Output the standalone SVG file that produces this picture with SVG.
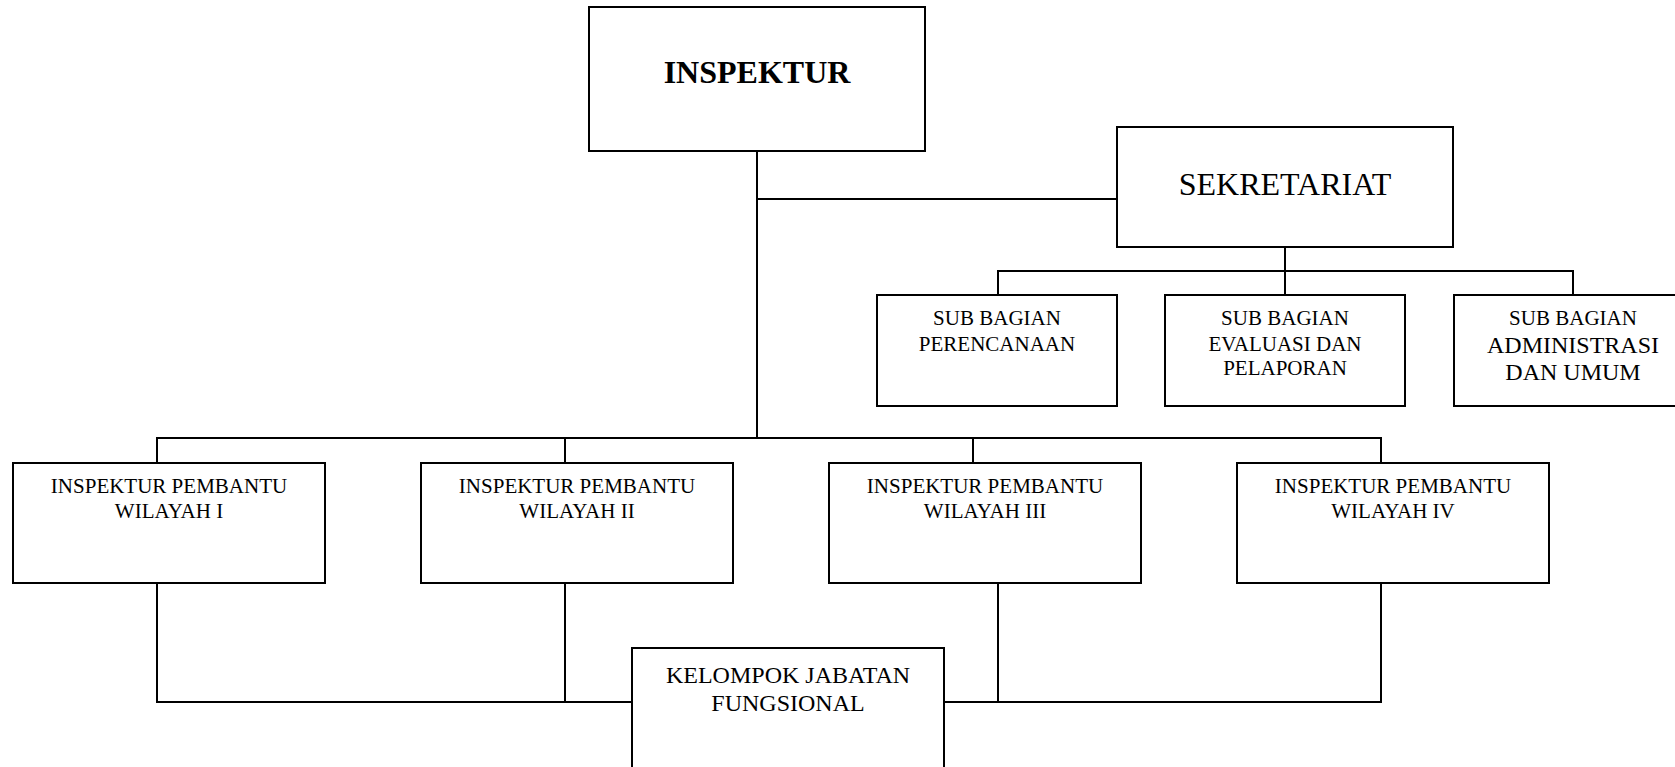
<svg xmlns="http://www.w3.org/2000/svg" width="1675" height="767" viewBox="0 0 1675 767">
<style>
.box{fill:#fff;stroke:#000;stroke-width:2}
.ln{fill:none;stroke:#000;stroke-width:2}
text{font-family:"Liberation Serif","Times New Roman",serif;fill:#000;text-anchor:middle}
.t21{font-size:21px}
.t24{font-size:24px}
</style>
<rect width="1675" height="767" fill="#fff"/>
<g id="connectors">
<polyline class="ln" points="757,151 757,438"/>
<polyline class="ln" points="757,199 1117,199"/>
<polyline class="ln" points="1285,247 1285,295"/>
<polyline class="ln" points="998,295 998,271 1573,271 1573,295"/>
<polyline class="ln" points="157,463 157,438 1381,438 1381,463"/>
<polyline class="ln" points="565,438 565,463"/>
<polyline class="ln" points="973,438 973,463"/>
<polyline class="ln" points="157,583 157,702 632,702"/>
<polyline class="ln" points="565,583 565,702"/>
<polyline class="ln" points="998,583 998,702"/>
<polyline class="ln" points="944,702 1381,702 1381,583"/>
</g>
<g id="inspektur">
<rect class="box" x="589" y="7" width="336" height="144"/>
<text x="757" y="83" font-size="32" font-weight="bold">INSPEKTUR</text>
</g>
<g id="sekretariat">
<rect class="box" x="1117" y="127" width="336" height="120"/>
<text x="1285" y="195" font-size="32">SEKRETARIAT</text>
</g>
<g id="sub-perencanaan">
<rect class="box" x="877" y="295" width="240" height="111"/>
<text class="t21" x="997" y="325">SUB BAGIAN</text>
<text class="t21" x="997" y="351">PERENCANAAN</text>
</g>
<g id="sub-evaluasi">
<rect class="box" x="1165" y="295" width="240" height="111"/>
<text class="t21" x="1285" y="325">SUB BAGIAN</text>
<text class="t21" x="1285" y="351">EVALUASI DAN</text>
<text class="t21" x="1285" y="375">PELAPORAN</text>
</g>
<g id="sub-administrasi">
<rect class="box" x="1454" y="295" width="240" height="111"/>
<text class="t21" x="1573" y="325">SUB BAGIAN</text>
<text class="t24" x="1573" y="353">ADMINISTRASI</text>
<text class="t24" x="1573" y="380">DAN UMUM</text>
</g>
<g id="irban-1">
<rect class="box" x="13" y="463" width="312" height="120"/>
<text class="t21" x="169" y="493">INSPEKTUR PEMBANTU</text>
<text class="t21" x="169" y="518">WILAYAH I</text>
</g>
<g id="irban-2">
<rect class="box" x="421" y="463" width="312" height="120"/>
<text class="t21" x="577" y="493">INSPEKTUR PEMBANTU</text>
<text class="t21" x="577" y="518">WILAYAH II</text>
</g>
<g id="irban-3">
<rect class="box" x="829" y="463" width="312" height="120"/>
<text class="t21" x="985" y="493">INSPEKTUR PEMBANTU</text>
<text class="t21" x="985" y="518">WILAYAH III</text>
</g>
<g id="irban-4">
<rect class="box" x="1237" y="463" width="312" height="120"/>
<text class="t21" x="1393" y="493">INSPEKTUR PEMBANTU</text>
<text class="t21" x="1393" y="518">WILAYAH IV</text>
</g>
<g id="kelompok">
<rect class="box" x="632" y="648" width="312" height="130"/>
<text class="t24" x="788" y="683">KELOMPOK JABATAN</text>
<text class="t24" x="788" y="711">FUNGSIONAL</text>
</g>
</svg>
